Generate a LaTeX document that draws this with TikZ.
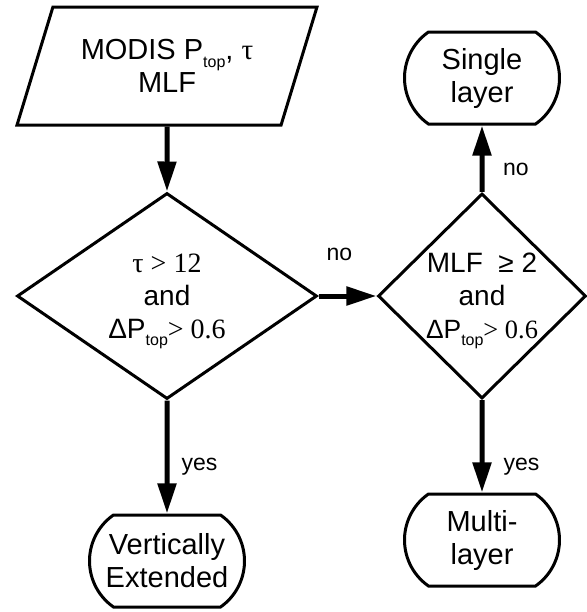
\documentclass[tikz,border=0pt]{standalone}
\usepackage{fontspec}
\setmainfont{Liberation Sans}
\newfontfamily\tms{Liberation Serif}
\usetikzlibrary{shapes.geometric,shapes.misc,arrows.meta}
\newcommand{\lowtxt}[1]{\raisebox{-0.5ex}[0pt][0pt]{\fontsize{8}{8}\selectfont #1}}

\begin{document}
\begin{tikzpicture}[->,>={Triangle[length=15pt,width=9pt]},x=0.5pt,y=-0.5pt,
                    node distance=115pt,font=\fontsize{14.5}{16.5}\selectfont]
  \tikzstyle{io}=[trapezium,trapezium left angle=63,trapezium right angle=117,trapezium stretches=true,draw=black,line width=1.5pt,minimum width=150pt,minimum height=59pt,align=center,inner sep=0pt]
  \tikzstyle{decision}=[diamond,draw=black,line width=1.5pt,align=center,inner sep=0pt,font=\fontsize{14}{16.5}\selectfont]
  \tikzstyle{term}=[rounded rectangle,rounded rectangle arc length=110,draw=black,line width=1.5pt,minimum width=81.5pt,minimum height=46pt,align=center,inner sep=2pt]
  \tikzstyle{answer}=[font=\fontsize{11.5}{14}\selectfont]

  \useasboundingbox (0,0) rectangle (586,612);

  \node[io]       (input)   at (167,66) {MODIS P\lowtxt{top}, {\tms τ}\\MLF};
  \node[decision] (tauTest) [below of=input, minimum width=150pt, minimum height=103pt] {{\tms τ > 12}\\and\\ΔP\lowtxt{top}{\tms > 0.6}};
  \node[term]     (vertExt) [below of=tauTest, node distance=132.5pt] {Vertically\\Extended};
  \node[decision] (mlfTest) [right of=tauTest, node distance=157.5pt, minimum width=104pt, minimum height=102.5pt] {MLF~ ≥ 2\\and\\{\fontsize{13.2}{16.5}\selectfont ΔP\lowtxt{top}{\tms > 0.6}}};
  \node[term]     (single)  [above of=mlfTest, node distance=109pt] {Single\\layer};
  \node[term]     (multi)   [below of=mlfTest, node distance=122pt] {Multi-\\layer};

  \path[line width=2.5pt]
        (input)   edge                                                      (tauTest)
        (tauTest) edge node[answer, above, xshift=-4pt, yshift=13pt] {no}    (mlfTest)
                  edge node[answer, right, xshift=2.7pt, yshift=-5pt] {yes}  (vertExt)
        (mlfTest) edge node[answer, right, xshift=6pt, yshift=-5.5pt] {no}   (single)
                  edge node[answer, right, xshift=6.2pt, yshift=-10pt] {yes} (multi);
\end{tikzpicture}
\end{document}
